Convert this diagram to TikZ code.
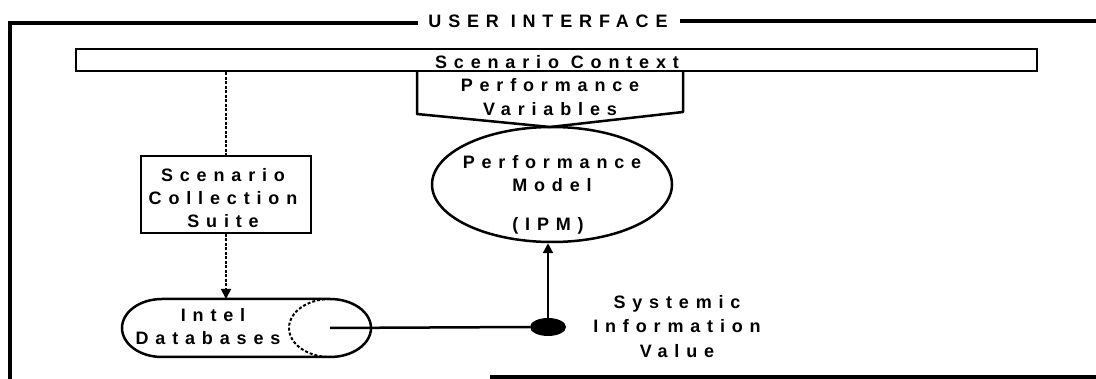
\documentclass[tikz,border=0pt]{standalone}
\usepackage{fontspec}
\usetikzlibrary{arrows.meta,shapes.geometric,calc}
\newfontfamily\lblfont{Liberation Sans}[LetterSpace=38,UprightFont=*-Bold]
\begin{document}
\begin{tikzpicture}[x=1pt,y=-1pt,
  lbl/.style={font=\lblfont\fontsize{18}{23}\selectfont,inner sep=0pt,align=center},
  frame/.style={line width=3.5pt},
  edge/.style={line width=2.5pt},
  thin/.style={line width=2pt},
  dashline/.style={line width=1.8pt,dash pattern=on 3pt off 1.5pt},
  tip/.style={-{Triangle[length=10pt,width=10pt]}},
]
\useasboundingbox (0,0) rectangle (1096,379);

% outer frame with title
\node[lbl] (ui) at (548,21) {USER INTERFACE};
\draw[frame] (ui.west) ++(-10,2) -- (8,23) -- (10,23) -- (10,379);
\draw[frame] (ui.east) ++(12,0) -- (1096,21);
\draw[frame] (490,377) -- (1096,377);

% scenario context bar
\node[draw,edge,rectangle,minimum width=961,minimum height=22,inner sep=0pt] (ctx) at (556.5,60) {};
\node[lbl,anchor=base] (ctxlbl) at (557,68.5) {Scenario Context};

% performance variables (off-page style pentagon)
\coordinate (pvtl) at (417,71);
\coordinate (pvbl) at (417,114);
\coordinate (pvtip) at (550,127);
\coordinate (pvbr) at (683,112);
\coordinate (pvtr) at (683,71);
\draw[edge,line join=round] (pvtl) -- (pvbl) -- (pvtip) -- (pvbr) -- (pvtr);
\node[lbl,anchor=base] (pv1) at (550,92) {Performance};
\node[lbl,anchor=base] (pv2) at (550,116) {Variables};

% performance model
\node[draw,edge,ellipse,minimum width=240,minimum height=115,inner sep=0pt] (ipm) at (552,184.5) {};
\node[lbl,anchor=base] (ipm1) at (552,169) {Performance};
\node[lbl,anchor=base] (ipm2) at (552,192) {Model};
\node[lbl,anchor=base] (ipm3) at (548,231) {(IPM)};

% scenario collection suite
\node[draw,thin,rectangle,minimum width=170,minimum height=77,inner sep=0pt] (scs) at (226,194.5) {};
\node[lbl,anchor=base] (scs1) at (223,182) {Scenario};
\node[lbl,anchor=base] (scs2) at (223,205) {Collection};
\node[lbl,anchor=base] (scs3) at (223,228) {Suite};

% intel databases (horizontal cylinder)
\coordinate (dbtop) at (226,299);
\coordinate (dbc) at (330,328);
\draw[edge] (162,299) arc[start angle=90,end angle=270,x radius=40pt,y radius=29pt]
  -- (330,357) arc[start angle=-90,end angle=90,x radius=41pt,y radius=29pt] -- cycle;
\draw[thin,dash pattern=on 3pt off 2pt] (330,299) arc[start angle=90,end angle=270,x radius=41pt,y radius=29pt];
\node[lbl,anchor=base] (db1) at (213,322) {Intel};
\node[lbl,anchor=base] (db2) at (208,345) {Databases};

% systemic information value
\node[ellipse,fill=black,minimum width=36,minimum height=18,inner sep=0pt] (siv) at (548,327) {};
\node[lbl,anchor=base] (siv1) at (677,309) {Systemic};
\node[lbl,anchor=base] (siv2) at (677,333) {Information};
\node[lbl,anchor=base] (siv3) at (677,358) {Value};

% connectors
\draw[dashline] (ctx.south -| scs.north) -- (scs.north);
\draw[dashline,tip] (scs.south) -- (dbtop);
\draw[edge] (dbc) -- (siv.west);
\draw[edge,tip] (siv.north) -- (siv.north |- ipm.south);
\end{tikzpicture}
\end{document}
